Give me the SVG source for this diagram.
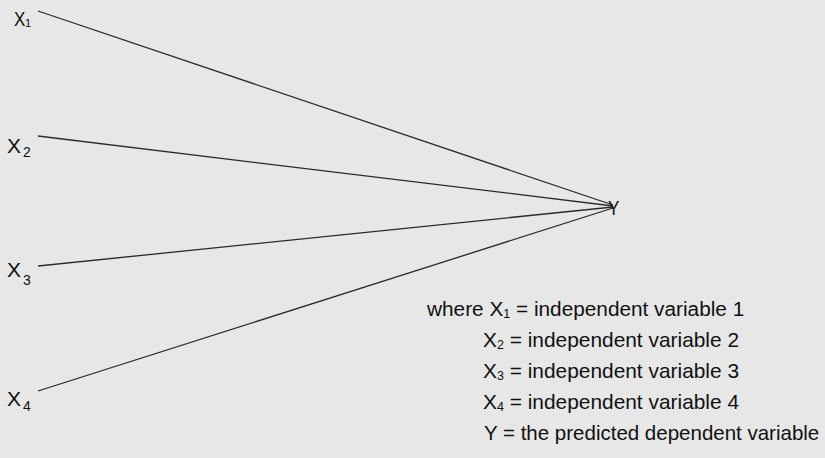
<svg xmlns="http://www.w3.org/2000/svg" width="825" height="458" viewBox="0 0 825 458">
<style>
text{font-family:"Liberation Sans",Arial,sans-serif;fill:#111;}
.lab{font-size:20px;}
.sub{font-size:14px;}
.leg{font-size:20px;}
.lsub{font-size:12px;}
.conn line{stroke:#2a2a2a;stroke-width:1.3;fill:none;}
</style>
<rect x="0" y="0" width="825" height="458" fill="#e6e7e6"/>
<g id="connectors" class="conn">
<line x1="38" y1="11" x2="613" y2="205"/>
<line x1="38" y1="136" x2="613" y2="206"/>
<line x1="38" y1="266" x2="613" y2="207"/>
<line x1="38" y1="391" x2="613" y2="208"/>
</g>
<g id="node-x1">
<text class="lab" transform="translate(14,26) scale(0.85,1)">X</text>
<text style="font-size:11px" x="25" y="27">1</text>
</g>
<g id="node-x2">
<text class="lab" transform="translate(7,153) scale(1.05,1)">X</text>
<text class="sub" x="23" y="157">2</text>
</g>
<g id="node-x3">
<text class="lab" transform="translate(7,277) scale(1.05,1)">X</text>
<text class="sub" x="23" y="285">3</text>
</g>
<g id="node-x4">
<text class="lab" transform="translate(7,406) scale(1.05,1)">X</text>
<text class="sub" x="23" y="411">4</text>
</g>
<g id="node-y">
<text class="lab" transform="translate(608,215) scale(0.85,1)">Y</text>
</g>
<g id="legend">
<text class="leg" transform="translate(427,316) scale(1.04,1)">where X<tspan class="lsub" dy="2">1</tspan><tspan dy="-2"> = independent variable 1</tspan></text>
<text class="leg" transform="translate(483,347) scale(1.045,1)">X<tspan class="lsub" dy="2">2</tspan><tspan dy="-2"> = independent variable 2</tspan></text>
<text class="leg" transform="translate(483,378) scale(1.045,1)">X<tspan class="lsub" dy="2">3</tspan><tspan dy="-2"> = independent variable 3</tspan></text>
<text class="leg" transform="translate(483,409) scale(1.045,1)">X<tspan class="lsub" dy="2">4</tspan><tspan dy="-2"> = independent variable 4</tspan></text>
<text class="leg" transform="translate(484,440) scale(1.025,1)">Y = the predicted dependent variable</text>
</g>
</svg>
